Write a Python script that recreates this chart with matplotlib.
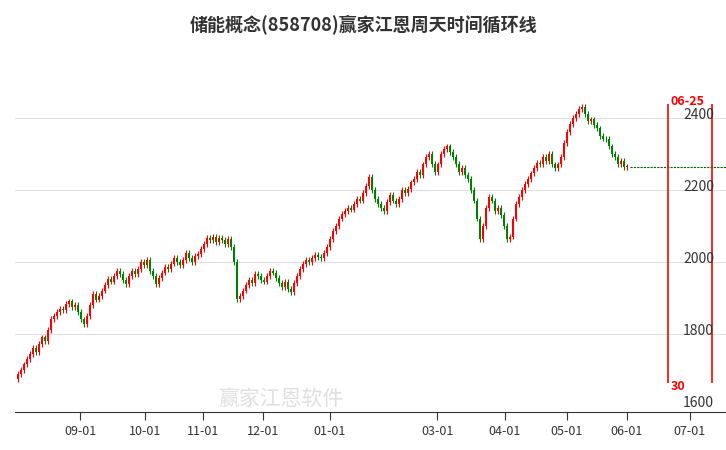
import matplotlib
matplotlib.use('Agg')
import matplotlib.pyplot as plt
import numpy as np

plt.rcParams['font.family'] = ['Noto Sans CJK SC', 'DejaVu Sans']

# 日收盘价
closes = [
    1689, 1700, 1715, 1730, 1745, 1760, 1750, 1772, 1790, 1780,
    1810, 1841, 1850, 1860, 1870, 1865, 1883, 1890, 1875, 1880,
    1860, 1840, 1827, 1850, 1880, 1911, 1895, 1905, 1920, 1935,
    1952, 1945, 1960, 1975, 1965, 1950, 1939, 1960, 1975, 1965,
    1980, 2000, 1990, 2005, 1975, 1960, 1939, 1955, 1970, 1985,
    1980, 1995, 2010, 2000, 1990, 2005, 2025, 2010, 2000, 2015,
    2022, 2035, 2050, 2065, 2060, 2070, 2055, 2065, 2060, 2050,
    2064, 2040, 2000, 1897, 1905, 1920, 1935, 1950, 1940, 1965,
    1960, 1950, 1945, 1960, 1975, 1970, 1955, 1940, 1930, 1945,
    1925, 1915, 1940, 1960, 1980, 1994, 2005, 2000, 2010, 2020,
    2014, 2010, 2025, 2040, 2064, 2085, 2100, 2120, 2133, 2140,
    2150, 2145, 2160, 2175, 2170, 2190, 2210, 2236, 2200, 2175,
    2160, 2150, 2140, 2165, 2185, 2170, 2160, 2175, 2200, 2190,
    2203, 2220, 2230, 2250, 2240, 2270, 2290, 2300, 2272, 2250,
    2270, 2300, 2314, 2320, 2305, 2290, 2272, 2250, 2260, 2240,
    2230, 2200, 2170, 2120, 2064, 2100, 2150, 2180, 2170, 2140,
    2150, 2130, 2100, 2064, 2070, 2120, 2160, 2180, 2200, 2215,
    2230, 2245, 2260, 2275, 2270, 2290, 2280, 2300, 2270, 2260,
    2270, 2290, 2330, 2360, 2383, 2400, 2410, 2425, 2430, 2410,
    2390, 2395, 2380, 2370, 2350, 2342, 2340, 2320, 2300, 2290,
    2272, 2280, 2264, 2264,
]
first_open = 1675
month_labels = ['09-01', '10-01', '11-01', '12-01', '01-01', '03-01', '04-01', '05-01', '06-01', '07-01']
month_pos = [20.7, 42.3, 61.7, 81.7, 104, 139.7, 162.3, 183, 203, 224]
y_ticks = [1600, 1800, 2000, 2200, 2400]

RED = '#ff0000'
GREEN = '#008000'

fig = plt.figure(figsize=(7.26, 4.5), dpi=100)
ax = fig.add_axes([15 / 726, 38 / 450, 711 / 726, 352 / 450])

opens = [first_open] + closes[:-1]
for i, (o, c) in enumerate(zip(opens, closes)):
    col = RED if c >= o else GREEN
    lo, hi = min(o, c), max(o, c)
    ax.vlines(i, lo - 8, hi + 8, color=col, lw=0.8)
    ax.bar(i, max(hi - lo, 2), bottom=lo, width=0.7, color=col, lw=0)

n = len(closes)
ax.plot([n, 236], [closes[-1]] * 2, ls=(0, (2, 1)), color='#006400', lw=0.8)

for v in y_ticks[1:]:
    ax.axhline(v, color='#e0e0e0', lw=0.8, zorder=0)
for v in y_ticks:
    ax.text(232, v + 8, str(v), ha='right', va='center', fontsize=10, color='#333333')

# 时间周期竖线
ax.vlines([216.7, 231.5], 1663, 2437, color=RED, lw=1.2)
ax.text(217.5, 2445, '06-25', color=RED, fontsize=9, fontweight='bold', va='center')
ax.text(217.5, 1655, '30', color=RED, fontsize=9, fontweight='bold', va='center')

ax.set_xlim(-1, 236)
ax.set_ylim(1583, 2560)
ax.set_xticks(month_pos)
ax.set_xticklabels(month_labels, fontsize=9, color='#333333')
ax.set_yticks([])
for s in ['top', 'right', 'left']:
    ax.spines[s].set_visible(False)
ax.spines['bottom'].set_color('#333333')
ax.tick_params(axis='x', length=6, color='#333333')

fig.text(0.3, 0.1, '赢家江恩软件', fontsize=15, color='#d8d8d8', alpha=0.8)
fig.text(0.5, 0.945, '储能概念(858708)赢家江恩周天时间循环线', ha='center', va='center',
         fontsize=13, fontweight='bold', color='#333333')

fig.savefig('out.png', dpi=100)
